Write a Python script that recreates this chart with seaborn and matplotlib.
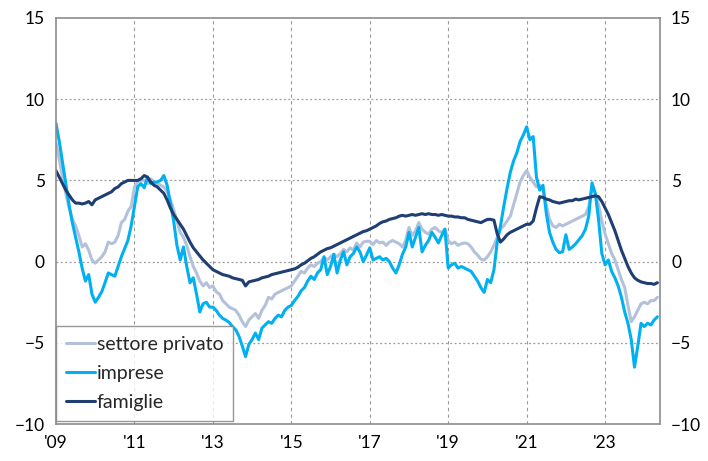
import pandas as pd
import matplotlib
matplotlib.use("Agg")
import matplotlib.pyplot as plt
import seaborn as sns

# mesi da gennaio 2009 a maggio 2024
mesi = pd.date_range("2009-01-01", "2024-05-01", freq="MS")

settore_privato = [
    7.3, 6.3, 5.2, 4.2, 3.3, 2.6, 2.2, 1.6, 0.9, 1.1, 0.7, 0.1,          # 2009
    -0.1, 0.1, 0.3, 0.6, 1.2, 1.1, 1.2, 1.6, 2.4, 2.6, 3.1, 3.4,         # 2010
    4.6, 4.9, 5.0, 5.0, 4.8, 5.1, 4.9, 4.8, 4.7, 4.6, 4.3, 3.8,          # 2011
    3.2, 2.5, 1.8, 1.5, 1.0, 0.3, -0.3, -0.7, -1.2, -1.5, -1.3, -1.6,    # 2012
    -1.5, -1.85, -2.0, -2.4, -2.6, -2.8, -2.9, -3.0, -3.3, -3.7, -4.0, -3.6,  # 2013
    -3.4, -3.2, -3.5, -3.0, -2.7, -2.2, -2.3, -2.0, -1.9, -1.8, -1.7, -1.6,   # 2014
    -1.5, -1.2, -0.9, -0.6, -0.7, -0.4, -0.2, -0.3, -0.1, 0.0, 0.25, 0.1,     # 2015
    0.3, 0.45, 0.3, 0.5, 0.75, 0.6, 0.85, 0.7, 1.15, 0.9, 1.2, 1.25,     # 2016
    1.25, 1.05, 1.3, 1.15, 1.2, 1.0, 1.2, 1.3, 1.2, 1.1, 0.9, 1.3,       # 2017
    2.1, 1.6, 1.9, 2.4, 2.0, 1.8, 1.7, 2.0, 2.1, 1.9, 1.8, 2.0,          # 2018
    1.3, 1.1, 1.2, 1.0, 1.1, 1.15, 1.1, 0.9, 0.6, 0.4, 0.15, 0.1,        # 2019
    0.3, 0.6, 1.0, 1.5, 2.0, 2.2, 2.5, 2.8, 3.5, 4.2, 4.9, 5.3,          # 2020
    5.6, 5.2, 4.9, 4.6, 4.7, 4.4, 3.5, 2.6, 2.2, 2.1, 2.3, 2.2,          # 2021
    2.3, 2.4, 2.5, 2.6, 2.7, 2.8, 2.9, 3.4, 4.6, 4.2, 3.5, 2.5,          # 2022
    1.7, 1.1, 0.5, 0.1, -0.5, -1.1, -1.6, -2.7, -3.7, -3.4, -3.0, -2.6,  # 2023
    -2.5, -2.6, -2.4, -2.4, -2.2,                                        # 2024
]

imprese = [
    8.5, 7.4, 6.1, 4.8, 3.5, 2.4, 1.5, 0.6, -0.4, -1.2, -0.8, -2.0,      # 2009
    -2.5, -2.2, -1.85, -1.3, -0.7, -0.8, -0.9, -0.3, 0.3, 0.8, 1.3, 2.2, # 2010
    3.4, 4.6, 4.8, 4.55, 5.2, 4.8, 4.9, 4.9, 5.0, 5.3, 4.7, 3.6,         # 2011
    2.5, 1.0, 0.1, 0.9, -0.3, -1.3, -1.0, -2.0, -3.1, -2.6, -2.5, -2.8,  # 2012
    -2.8, -3.0, -3.3, -3.5, -3.6, -3.75, -4.0, -4.2, -4.6, -5.2, -5.85, -5.1,  # 2013
    -4.8, -4.4, -4.8, -4.1, -3.9, -3.7, -3.8, -3.5, -3.3, -3.4, -3.0, -2.8,    # 2014
    -2.7, -2.4, -2.15, -1.8, -1.6, -1.2, -0.9, -1.1, -0.7, -0.5, 0.3, -0.8,    # 2015
    -0.3, 0.45, -0.7, 0.1, 0.6, -0.2, 0.3, 0.5, 0.9, 0.6, 0.0, 0.4,      # 2016
    0.85, 0.1, 0.2, 0.3, 0.1, 0.2, 0.0, -0.4, -0.7, -0.2, 0.45, 0.9,     # 2017
    1.8, 0.9, 1.5, 2.1, 0.6, 1.0, 1.3, 1.8, 1.5, 1.15, 1.6, 2.0,         # 2018
    -0.4, -0.2, -0.1, -0.4, -0.3, -0.4, -0.5, -0.6, -0.9, -1.2, -1.6, -1.9,    # 2019
    -1.1, -1.3, -0.5, 1.2, 2.2, 3.4, 4.5, 5.5, 6.2, 6.7, 7.4, 7.8,       # 2020
    8.3, 7.5, 7.7, 5.2, 4.4, 4.7, 3.0, 1.8, 1.2, 0.75, 0.55, 0.6,        # 2021
    1.65, 0.75, 0.9, 1.1, 1.35, 1.6, 2.0, 2.8, 4.85, 4.2, 2.6, 0.5,      # 2022
    -0.2, 0.1, -0.6, -1.0, -1.5, -2.2, -3.1, -3.8, -4.8, -6.5, -5.2, -3.8,     # 2023
    -4.0, -3.8, -3.9, -3.6, -3.4,                                        # 2024
]

famiglie = [
    5.6, 5.2, 4.8, 4.4, 4.1, 3.8, 3.6, 3.6, 3.55, 3.6, 3.7, 3.5,         # 2009
    3.8, 3.9, 4.0, 4.1, 4.2, 4.3, 4.5, 4.6, 4.8, 4.9, 5.0, 5.0,          # 2010
    5.0, 5.0, 5.1, 5.3, 5.2, 4.9, 4.7, 4.6, 4.4, 4.2, 3.8, 3.3,          # 2011
    2.9, 2.6, 2.3, 2.0, 1.6, 1.2, 0.85, 0.6, 0.35, 0.1, -0.1, -0.3,      # 2012
    -0.5, -0.6, -0.7, -0.8, -0.85, -0.9, -1.0, -1.05, -1.1, -1.15, -1.5, -1.25,  # 2013
    -1.2, -1.15, -1.1, -1.0, -0.95, -0.9, -0.8, -0.75, -0.7, -0.65, -0.6, -0.55, # 2014
    -0.5, -0.45, -0.35, -0.2, -0.1, 0.05, 0.2, 0.3, 0.45, 0.6, 0.7, 0.8,  # 2015
    0.85, 0.95, 1.05, 1.15, 1.25, 1.35, 1.45, 1.55, 1.65, 1.75, 1.85, 1.9,  # 2016
    2.0, 2.1, 2.2, 2.35, 2.45, 2.5, 2.6, 2.65, 2.7, 2.8, 2.85, 2.8,      # 2017
    2.85, 2.9, 2.85, 2.9, 2.95, 2.9, 2.95, 2.9, 2.9, 2.85, 2.9, 2.85,    # 2018
    2.8, 2.8, 2.75, 2.75, 2.7, 2.7, 2.6, 2.55, 2.5, 2.45, 2.4, 2.5,      # 2019
    2.6, 2.6, 2.55, 1.7, 1.2, 1.4, 1.65, 1.8, 1.9, 2.0, 2.1, 2.2,        # 2020
    2.3, 2.3, 2.5, 3.3, 4.0, 3.95, 3.85, 3.8, 3.7, 3.65, 3.6, 3.65,      # 2021
    3.7, 3.75, 3.75, 3.85, 3.8, 3.85, 3.9, 3.95, 4.0, 4.05, 4.0, 3.7,    # 2022
    3.3, 2.9, 2.4, 1.9, 1.3, 0.7, 0.2, -0.3, -0.7, -1.0, -1.15, -1.25,   # 2023
    -1.3, -1.35, -1.35, -1.4, -1.3,                                      # 2024
]

serie = ["settore privato", "imprese", "famiglie"]
colori = ["#B3C1DB", "#00B0F0", "#1F3E72"]
tick_anni = list(range(2009, 2024, 2))
tick_label = ["'09", "'11", "'13", "'15", "'17", "'19", "'21", "'23"]

t = mesi.year + (mesi.month - 1) / 12
df = pd.concat([
    pd.DataFrame({"t": t, "valore": settore_privato, "serie": serie[0]}),
    pd.DataFrame({"t": t, "valore": imprese, "serie": serie[1]}),
    pd.DataFrame({"t": t, "valore": famiglie, "serie": serie[2]}),
])

sns.set_style("white")
plt.rcParams["font.family"] = ["Lato", "DejaVu Sans"]

fig = plt.figure(figsize=(7.08, 4.61), dpi=100)
ax = fig.add_axes([56 / 708, 1 - 424 / 461, 604 / 708, 406 / 461])

sns.lineplot(data=df, x="t", y="valore", hue="serie", hue_order=serie,
             palette=colori, linewidth=2.2, ax=ax)

ax.set_xlim(2009, 2024.4)
ax.set_ylim(-10, 15)
ax.set_xticks(tick_anni)
ax.set_xticklabels(tick_label)
ax.set_yticks(range(-10, 16, 5))
ax.set_xlabel("")
ax.set_ylabel("")

for x in tick_anni[1:]:
    ax.axvline(x, color="#9A9A9A", linestyle=(0, (3, 3)), linewidth=0.8, zorder=0)
for y in [-5, 0, 5, 10]:
    ax.axhline(y, color="#9A9A9A", linestyle=(0, (1.5, 2)), linewidth=0.9, zorder=0)

for s in ax.spines.values():
    s.set_color("#8C8C8C")
    s.set_linewidth(1.2)

ax.tick_params(axis="both", length=0, labelsize=12.5, colors="#000000", pad=8)
ax.tick_params(axis="y", labelright=True, right=False)

leg = ax.legend(loc="lower left", bbox_to_anchor=(0.0, 0.008), borderaxespad=0,
                fontsize=14, frameon=True, fancybox=False, handlelength=1.5,
                handletextpad=0.1, labelspacing=0.62, borderpad=0.5)
leg.get_frame().set_edgecolor("#7F7F7F")
leg.get_frame().set_linewidth(1.0)

fig.savefig("out.png", dpi=100)
